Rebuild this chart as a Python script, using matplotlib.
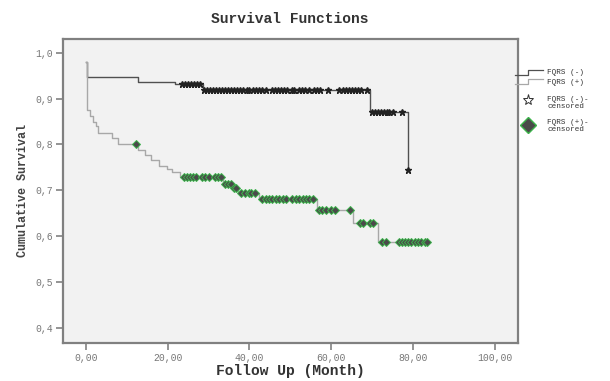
import matplotlib
matplotlib.use('Agg')
import matplotlib.pyplot as plt
from matplotlib.lines import Line2D

# Kaplan-Meier step data (time of change, survival after change)
minus_t = [0, 0.3, 12.8, 21.8, 28.6, 69.4, 78.7]
minus_s = [0.98, 0.948, 0.937, 0.932, 0.919, 0.871, 0.745]

plus_t = [0, 0.2, 1.0, 1.8, 2.6, 3.0, 6.3, 7.8, 12.7, 14.6, 16.0, 18.0, 19.8,
          21.0, 23.0, 33.6, 35.8, 37.2, 42.3, 56.5, 65.3, 71.4, 83.4]
plus_s = [0.98, 0.875, 0.862, 0.85, 0.84, 0.826, 0.815, 0.80, 0.787, 0.776, 0.765,
          0.754, 0.746, 0.739, 0.73, 0.714, 0.704, 0.695, 0.681, 0.658, 0.628,
          0.587, 0.587]

# censored observations
minus_cens = [23.5, 24.2, 25, 25.8, 26.5, 27.2, 28,
              29, 29.6, 30.3, 31, 31.8, 32.5, 33.3, 34, 34.8, 35.5, 36.3, 37,
              37.8, 38.5, 39.3, 40, 40.8, 41.5, 42.3, 43, 44, 45.5, 46.3, 47,
              47.8, 48.5, 49.3, 50.3, 51, 52, 52.8, 53.5, 54.5, 55.8, 56.5,
              57.3, 59.3, 62, 62.8, 63.5, 64.3, 65, 65.8, 66.5, 67.3, 68.7,
              70, 70.7, 71.4, 72.1, 72.8, 73.5, 74.2, 75, 77.3, 78.7]
plus_cens = [12.3, 24, 24.7, 25.5, 26.3, 27, 28.5, 29.2, 30, 31.5, 32.3, 33,
             34, 34.7, 35.4, 36.2, 36.8, 38, 39, 39.8, 40.5, 41.3,
             43, 44, 44.8, 45.5, 46.5, 47.3, 48.2, 49, 50.5, 51.3, 52, 53,
             53.8, 54.6, 55.5, 57, 57.8, 58.7, 60, 60.8, 64.5,
             67, 67.8, 69.5, 70.3, 72.5, 73.3, 76.5, 77.3, 78, 78.8, 79.6,
             80.4, 81.2, 82, 82.8, 83.4]

xticks = [0, 20, 40, 60, 80, 100]
xtick_labels = ['0,00', '20,00', '40,00', '60,00', '80,00', '100,00']
yticks = [0.4, 0.5, 0.6, 0.7, 0.8, 0.9, 1.0]
ytick_labels = ['0,4', '0,5', '0,6', '0,7', '0,8', '0,9', '1,0']

minus_col = '#505050'
plus_col = '#a8a8a8'
mono = 'Liberation Mono'


def surv_at(ts, ss, t):
    val = ss[0]
    for ti, si in zip(ts, ss):
        if ti <= t:
            val = si
    return val


fig = plt.figure(figsize=(6.1, 3.81), dpi=100)
ax = fig.add_axes([0.103, 0.0997, 0.746, 0.798])
ax.set_facecolor('#f2f2f2')

ax.step(minus_t, minus_s, where='post', color=minus_col, lw=1.0, zorder=2)
ax.step(plus_t, plus_s, where='post', color=plus_col, lw=1.0, zorder=2)

ax.plot(plus_cens, [surv_at(plus_t, plus_s, t) for t in plus_cens], 'D',
        ms=3.6, mfc='#4a4a4a', mec='#3cb44b', mew=0.7, ls='none', zorder=3)
ax.plot(minus_cens, [surv_at(minus_t, minus_s, t) for t in minus_cens], '*',
        ms=4.5, color='#222222', ls='none', zorder=3)

ax.set_xlim(-5.6, 105.6)
ax.set_ylim(0.367, 1.03)
ax.set_xticks(xticks)
ax.set_xticklabels(xtick_labels)
ax.set_yticks(yticks)
ax.set_yticklabels(ytick_labels)
for lab in ax.get_xticklabels() + ax.get_yticklabels():
    lab.set_family(mono)
    lab.set_fontsize(7)
    lab.set_color('#555555')
ax.tick_params(colors='#777777', length=5, width=1.1, pad=2)
for sp in ax.spines.values():
    sp.set_color('#808080')
    sp.set_linewidth(1.6)

ax.set_xlabel('Follow Up (Month)', family=mono, fontweight='bold', fontsize=10.5,
              color='#333333', labelpad=1)
ax.set_ylabel('Cumulative Survival', family=mono, fontweight='bold', fontsize=8.5,
              color='#444444', labelpad=5)
fig.text(0.475, 0.95, 'Survival Functions', family=mono, fontweight='bold',
         fontsize=10.5, ha='center', va='center', color='#333333')

# legend drawn at right
lx0, lx1 = 515 / 610, 543 / 610
for y_px, col in [(73, minus_col), (82, plus_col)]:
    yb = 1 - (y_px + 2) / 381
    yt = 1 - (y_px - 3) / 381
    xs = [lx0, lx0 + 0.45 * (lx1 - lx0), lx0 + 0.45 * (lx1 - lx0), lx1]
    fig.add_artist(Line2D(xs, [yb, yb, yt, yt], color=col, lw=0.9,
                          transform=fig.transFigure))
fig.text(547 / 610, 1 - 73 / 381, 'FQRS (-)', family=mono, fontsize=5.5,
         va='center', color='#333333')
fig.text(547 / 610, 1 - 82 / 381, 'FQRS (+)', family=mono, fontsize=5.5,
         va='center', color='#333333')
fig.add_artist(Line2D([528 / 610], [1 - 100 / 381], marker='*', ms=8,
                      mfc='white', mec='#333333', mew=0.7, ls='none',
                      transform=fig.transFigure))
fig.text(547 / 610, 1 - 103 / 381, 'FQRS (-)-\ncensored', family=mono,
         fontsize=5.5, va='center', color='#333333', linespacing=1.0)
fig.add_artist(Line2D([528 / 610], [1 - 125 / 381], marker='D', ms=8,
                      mfc='#4a4a4a', mec='#3cb44b', mew=1, ls='none',
                      transform=fig.transFigure))
fig.text(547 / 610, 1 - 126 / 381, 'FQRS (+)-\ncensored', family=mono,
         fontsize=5.5, va='center', color='#333333', linespacing=1.0)

fig.savefig('out.png', dpi=100)
